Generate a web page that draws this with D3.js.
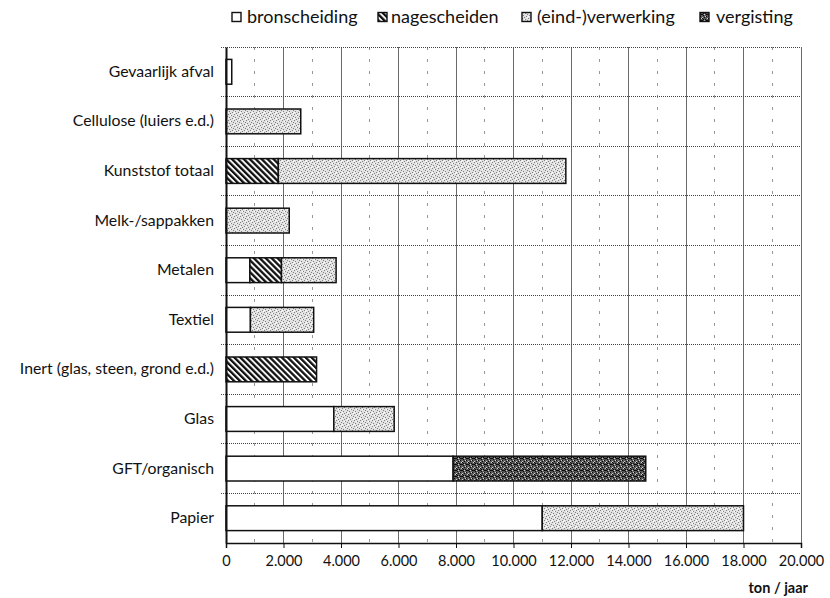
<!DOCTYPE html>
<html>
<head>
<meta charset="utf-8">
<script src="https://cdn.jsdelivr.net/npm/d3@7"></script>
<style>
  html, body { margin: 0; padding: 0; background: #fff; }
  svg { display: block; font-family: Lato, "Open Sans", sans-serif; }
</style>
</head>
<body>
<svg id="chart" width="830" height="598"></svg>
<script>
// ---- data ----
const categories = ["Gevaarlijk afval", "Cellulose (luiers e.d.)", "Kunststof totaal", "Melk-/sappakken",
  "Metalen", "Textiel", "Inert (glas, steen, grond e.d.)", "Glas", "GFT/organisch", "Papier"];
const seriesNames = ["bronscheiding", "nagescheiden", "(eind-)verwerking", "vergisting"];
const bronscheiding = [200, 0, 0, 0, 830, 850, 0, 3750, 7900, 11000];
const nagescheiden = [0, 0, 1820, 0, 1100, 0, 3150, 0, 0, 0];
const verwerking = [0, 2600, 10000, 2200, 1900, 2200, 0, 2100, 0, 7000];
const vergisting = [0, 0, 0, 0, 0, 0, 0, 0, 6700, 0];
const xTicks = [0, 2000, 4000, 6000, 8000, 10000, 12000, 14000, 16000, 18000, 20000];
const xMax = 20000;
const axisTitle = "ton / jaar";

// ---- layout ----
const svg = d3.select("#chart");
const margin = { left: 226, right: 29, top: 47, bottom: 55 };
const W = 830, H = 598;
const x = d3.scaleLinear().domain([0, xMax]).range([margin.left, W - margin.right]);
const y = d3.scaleBand().domain(categories).range([margin.top, H - margin.bottom]).paddingInner(0.5).paddingOuter(0.25);
const yFull = d3.scaleBand().domain(categories).range([margin.top, H - margin.bottom]);

const table = categories.map((c, i) => ({
  cat: c,
  [seriesNames[0]]: bronscheiding[i],
  [seriesNames[1]]: nagescheiden[i],
  [seriesNames[2]]: verwerking[i],
  [seriesNames[3]]: vergisting[i]
}));
const stacked = d3.stack().keys(seriesNames)(table);

// ---- patterns ----
const defs = svg.append("defs");
const hatch = defs.append("pattern").attr("id", "p1").attr("patternUnits", "userSpaceOnUse")
  .attr("width", 4.2).attr("height", 4.2).attr("patternTransform", "rotate(-45)");
hatch.append("rect").attr("width", 4.2).attr("height", 4.2).attr("fill", "#fff");
hatch.append("rect").attr("width", 2.3).attr("height", 4.2).attr("fill", "#111");
const light = defs.append("pattern").attr("id", "p2").attr("patternUnits", "userSpaceOnUse")
  .attr("width", 6).attr("height", 6);
light.append("rect").attr("width", 6).attr("height", 6).attr("fill", "#e2e2e2");
[[0,0],[3,1],[1,3],[4,4],[2,5],[5,2]].forEach(([a,b]) =>
  light.append("rect").attr("x", a).attr("y", b).attr("width", 1).attr("height", 1).attr("fill", "#808080"));
[[2,1],[5,5],[0,4]].forEach(([a,b]) =>
  light.append("rect").attr("x", a).attr("y", b).attr("width", 1).attr("height", 1).attr("fill", "#fff"));
const dark = defs.append("pattern").attr("id", "p3").attr("patternUnits", "userSpaceOnUse")
  .attr("width", 6).attr("height", 6);
dark.append("rect").attr("width", 6).attr("height", 6).attr("fill", "#5a5a5a");
[[0,0],[3,1],[1,3],[4,4],[2,5],[5,2],[1,1],[4,2],[0,2]].forEach(([a,b]) =>
  dark.append("rect").attr("x", a).attr("y", b).attr("width", 1).attr("height", 1).attr("fill", "#0a0a0a"));
[[2,2],[5,0],[0,5],[3,4]].forEach(([a,b]) =>
  dark.append("rect").attr("x", a).attr("y", b).attr("width", 1).attr("height", 1).attr("fill", "#cfcfcf"));
const fills = ["#fff", "url(#p1)", "url(#p2)", "url(#p3)"];

// ---- grid ----
const minor = d3.range(1000, xMax, 2000);
svg.append("g").selectAll("line").data(minor).join("line")
  .attr("x1", d => x(d)).attr("x2", d => x(d))
  .attr("y1", margin.top).attr("y2", H - margin.bottom)
  .attr("stroke", "#999").attr("stroke-width", 1).attr("stroke-dasharray", "3,9")
  .attr("shape-rendering", "crispEdges");
svg.append("g").selectAll("line").data(xTicks.slice(1)).join("line")
  .attr("x1", d => x(d)).attr("x2", d => x(d))
  .attr("y1", margin.top).attr("y2", H - margin.bottom)
  .attr("stroke", "#6a6a6a").attr("stroke-width", 1)
  .attr("shape-rendering", "crispEdges");
const hLines = categories.map(c => yFull(c));
svg.append("g").selectAll("line").data(hLines).join("line")
  .attr("x1", margin.left - 5).attr("x2", W - margin.right)
  .attr("y1", d => d).attr("y2", d => d)
  .attr("stroke", "#444").attr("stroke-width", 1).attr("stroke-dasharray", "1,1")
  .attr("shape-rendering", "crispEdges");

// ---- bars ----
svg.append("g").selectAll("g").data(stacked).join("g")
  .attr("fill", (d, i) => fills[i])
  .selectAll("rect").data(d => d.filter(s => s[1] > s[0])).join("rect")
  .attr("x", d => x(d[0])).attr("width", d => x(d[1]) - x(d[0]))
  .attr("y", d => y(d.data.cat)).attr("height", y.bandwidth())
  .attr("stroke", "#111").attr("stroke-width", 1.5);

// ---- axes ----
const xAxis = svg.append("g").attr("transform", `translate(0,${H - margin.bottom})`)
  .call(d3.axisBottom(x).tickValues(xTicks).tickSize(5).tickPadding(8)
    .tickFormat(d => d3.format(",")(d).replace(/,/g, ".")));
xAxis.select(".domain").attr("stroke", "#111").attr("stroke-width", 1.5);
xAxis.selectAll(".tick line").attr("stroke", "#111");
xAxis.selectAll("text").attr("font-size", 14.5).attr("fill", "#111").attr("font-family", "Lato, sans-serif");

const yAxis = svg.append("g").attr("transform", `translate(${margin.left},0)`)
  .call(d3.axisLeft(yFull).tickSize(0).tickPadding(12));
yAxis.select(".domain").attr("stroke", "#111").attr("stroke-width", 2);
yAxis.selectAll("text").attr("font-size", 15.8).attr("fill", "#111")
  .attr("font-family", "Lato, sans-serif");

svg.append("text").attr("x", 808).attr("y", 593).attr("text-anchor", "end")
  .attr("font-size", 14.5).attr("font-weight", "bold").attr("fill", "#111").text(axisTitle);

// ---- legend ----
const legSq = [232, 378, 522, 700];
const legTx = [247, 391, 537, 716];
const leg = svg.append("g").selectAll("g").data(seriesNames).join("g");
leg.append("rect").attr("x", (d, i) => legSq[i]).attr("y", 12.5).attr("width", 9).attr("height", 9)
  .attr("fill", (d, i) => fills[i]).attr("stroke", "#111").attr("stroke-width", 1.4);
leg.append("text").attr("x", (d, i) => legTx[i]).attr("y", 23).attr("font-size", 18).attr("fill", "#111")
  .text(d => d);
</script>
</body>
</html>
